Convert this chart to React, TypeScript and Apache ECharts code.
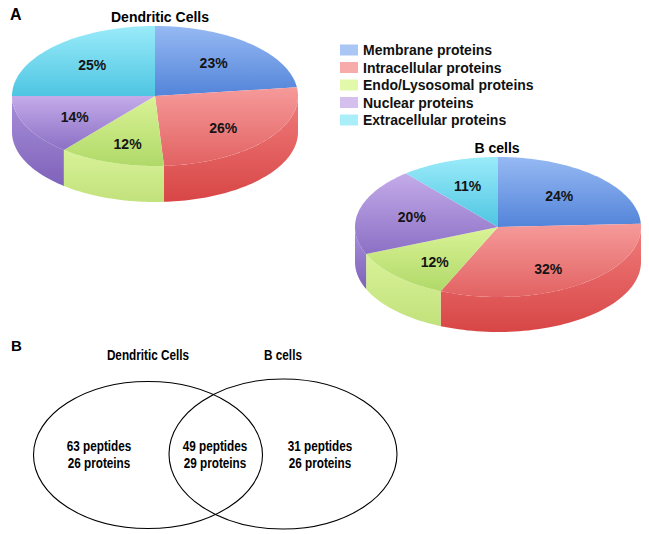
import React, { useEffect, useRef } from 'react';
import * as echarts from 'echarts';

// ---------- data ----------
const categories = [
  'Membrane proteins',
  'Intracellular proteins',
  'Endo/Lysosomal proteins',
  'Nuclear proteins',
  'Extracellular proteins',
];
const dendriticValues = [23, 26, 12, 14, 25];
const bCellValues = [24, 32, 12, 20, 11];
const pieTitles = ['Dendritic Cells', 'B cells'];
const vennSets = ['Dendritic Cells', 'B cells'];
const vennPeptides = [63, 49, 31]; // DC only, shared, B only
const vennProteins = [26, 29, 26];
const panelLabels = ['A', 'B'];

// ---------- styles ----------
const legendColors = ['#a9c6f5', '#f8abab', '#e2f8ab', '#d5bfee', '#aaeef9'];
const topColors = [
  ['#96b9f3', '#5384d9'],
  ['#f69a9a', '#e26262'],
  ['#daf397', '#b0d968'],
  ['#c4abe9', '#8b70c5'],
  ['#9aebf9', '#4ec5e2'],
];
const sideColors = [
  ['#6f98e2', '#4672c8'],
  ['#f07c7c', '#d84646'],
  ['#d8f298', '#c2e27c'],
  ['#a890da', '#7f62ba'],
  ['#70d8ee', '#40b4d2'],
];
const PIES = [
  { cx: 155, cy: 96, rx: 143, ry: 70, depth: 36 },
  { cx: 498, cy: 227, rx: 143, ry: 70, depth: 35 },
];
const FONT = '"Liberation Sans", Arial, Helvetica, sans-serif';
const NARROW_SCALE = 0.84;

const pieValues = [dendriticValues, bCellValues];

function grad(c: string[]) {
  return new echarts.graphic.LinearGradient(0, 0, 0, 1, [
    { offset: 0, color: c[0] },
    { offset: 1, color: c[1] },
  ]);
}

function makeRenderItem(k: number) {
  return (params: any, api: any) => {
    const d = params.dataIndex;
    const vals = pieValues[d];
    const total = vals.reduce((a, b) => a + b, 0);
    const before = vals.slice(0, k).reduce((a, b) => a + b, 0);
    const v = api.value(0);
    const start = 90 - (360 * before) / total;
    const end = start - (360 * v) / total;
    const { cx, cy, rx, ry, depth } = PIES[d];
    const pt = (deg: number, dy: number) => {
      const r = (deg * Math.PI) / 180;
      return [cx + rx * Math.cos(r), cy - ry * Math.sin(r) + dy];
    };
    const N = 60;
    const children: any[] = [];
    // side wall (visible in lower half only)
    const a = Math.max(end, -180);
    const b = Math.min(start, 0);
    if (a < b) {
      const pts: number[][] = [];
      for (let i = 0; i <= N; i++) pts.push(pt(b - ((b - a) * i) / N, 0));
      for (let i = 0; i <= N; i++) pts.push(pt(a + ((b - a) * i) / N, depth));
      children.push({
        type: 'polygon',
        shape: { points: pts },
        style: { fill: grad(sideColors[k]), stroke: 'none' },
      });
    }
    // top face
    const top: number[][] = [[cx, cy]];
    for (let i = 0; i <= N; i++) top.push(pt(start - ((start - end) * i) / N, 0));
    children.push({
      type: 'polygon',
      shape: { points: top },
      style: { fill: grad(topColors[k]), stroke: 'none' },
    });
    // label
    const mid = (((start + end) / 2) * Math.PI) / 180;
    const s = Math.sin(mid);
    const c = Math.cos(mid);
    const f = 0.62;
    const lx = cx + rx * f * c;
    const ly = cy - ry * f * s + (s < 0 ? -s * 7 : 0);
    children.push({
      type: 'text',
      x: lx,
      y: ly,
      style: {
        text: v + '%',
        fill: '#141414',
        font: 'bold 14px ' + FONT,
        align: 'center',
        verticalAlign: 'middle',
      },
    });
    return { type: 'group', children };
  };
}

export default function App() {
  const ref = useRef<HTMLDivElement>(null);
  useEffect(() => {
    if (!ref.current) return;
    const chart = echarts.init(ref.current, undefined, { renderer: 'svg' });

    const series = categories.map((name, k) => ({
      type: 'custom',
      name,
      coordinateSystem: 'none',
      silent: true,
      itemStyle: { color: legendColors[k] },
      data: [dendriticValues[k], bCellValues[k]],
      renderItem: makeRenderItem(k),
    }));

    const vennEllipses = [
      { cx: 148, cy: 455, rx: 114.5, ry: 73.5 },
      { cx: 283, cy: 454, rx: 114, ry: 75 },
    ];
    const vennTextX = [99, 215, 320];

    const graphic: any[] = [
      {
        type: 'text',
        x: 10,
        y: 14,
        style: { text: panelLabels[0], font: 'bold 16px ' + FONT, fill: '#000', verticalAlign: 'middle' },
      },
      {
        type: 'text',
        x: 11,
        y: 345,
        style: { text: panelLabels[1], font: 'bold 15px ' + FONT, fill: '#000', verticalAlign: 'middle' },
      },
      {
        type: 'text',
        x: 160,
        y: 17,
        style: { text: pieTitles[0], font: 'bold 14px ' + FONT, fill: '#000', align: 'center', verticalAlign: 'middle' },
      },
      {
        type: 'text',
        x: 497,
        y: 148,
        style: { text: pieTitles[1], font: 'bold 14px ' + FONT, fill: '#000', align: 'center', verticalAlign: 'middle' },
      },
      ...vennEllipses.map((e) => ({
        type: 'ellipse',
        shape: e,
        style: { fill: 'none', stroke: '#000', lineWidth: 1.1 },
      })),
      ...vennSets.map((t, i) => ({
        type: 'text',
        x: vennEllipses[i].cx,
        y: 355,
        scaleX: NARROW_SCALE,
        style: { text: t, font: 'bold 14px ' + FONT, fill: '#000', align: 'center', verticalAlign: 'middle' },
      })),
      ...vennPeptides.map((p, i) => ({
        type: 'text',
        x: vennTextX[i],
        y: 454.5,
        scaleX: NARROW_SCALE,
        style: {
          text: p + ' peptides\n' + vennProteins[i] + ' proteins',
          font: 'bold 14px ' + FONT,
          lineHeight: 17,
          fill: '#000',
          align: 'center',
          verticalAlign: 'middle',
        },
      })),
    ];

    chart.setOption({
      animation: false,
      backgroundColor: '#fff',
      color: legendColors,
      legend: {
        data: categories,
        orient: 'vertical',
        left: 335,
        top: 38,
        icon: 'rect',
        itemWidth: 18,
        itemHeight: 11,
        itemGap: 3.5,
        selectedMode: false,
        textStyle: { fontSize: 14, fontWeight: 'bold', fontFamily: FONT, color: '#111' },
      },
      series,
      graphic,
    });
    return () => chart.dispose();
  }, []);
  return (
    <div
      ref={ref}
      style={{ position: 'fixed', left: 0, top: 0, width: 649, height: 534, background: '#fff' }}
    />
  );
}
